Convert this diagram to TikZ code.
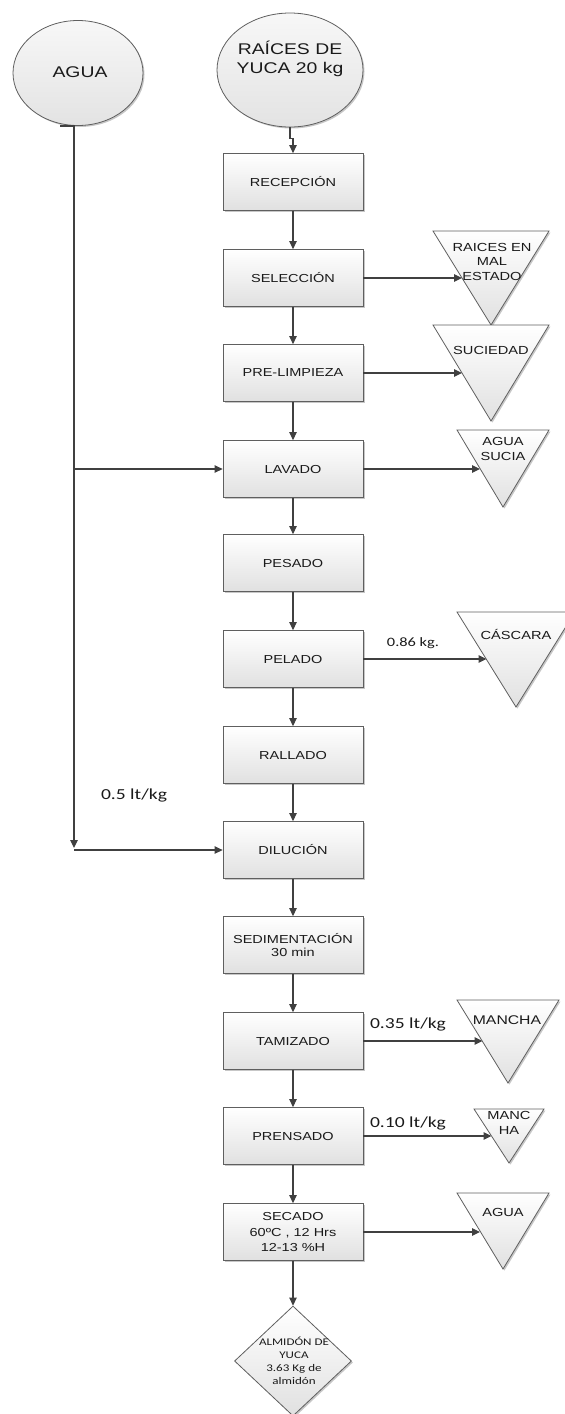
\documentclass[tikz,border=0pt]{standalone}
\usepackage{fontspec}
\setmainfont[FakeStretch=1.25]{Liberation Sans}
\newfontfamily\calib[FakeStretch=1.28]{Carlito}
\usetikzlibrary{arrows.meta,shapes.geometric,shadows,calc}
\definecolor{ln}{HTML}{404040}
\definecolor{bd}{HTML}{5F5F5F}
\definecolor{tx}{HTML}{1A1A1A}
\tikzset{
  shd/.style={drop shadow={shadow xshift=1.5pt,shadow yshift=-1.5pt,fill=black!22,opacity=1}},
  proc/.style={draw=bd,line width=0.8pt,top color=white,bottom color=black!12,
    minimum width=140pt,minimum height=57pt,inner sep=0pt,align=center,text=tx,
    font=\fontsize{11.6}{13.4}\selectfont,shd},
  oval/.style={ellipse,draw=bd,line width=0.8pt,top color=black!3,bottom color=black!11,inner sep=0pt,shd},
  tri/.style={draw=bd,line width=0.8pt,top color=white,bottom color=black!12,shd},
  tritext/.style={align=center,text=tx,inner sep=0pt,font=\fontsize{11.7}{14.5}\selectfont},
  bigtext/.style={align=center,text=tx,inner sep=0pt,font=\fontsize{15.5}{19}\selectfont},
  qty/.style={text=tx,inner sep=0pt,font=\calib},
  arr/.style={draw=ln,line width=1.1pt,-{Triangle[length=8pt,width=7.5pt]}},
  conn/.style={draw=ln,line width=1.1pt},
  prodshape/.style={diamond,draw=bd,line width=0.8pt,top color=white,bottom color=black!12,
    minimum width=117pt,minimum height=110pt,inner sep=0pt,shd},
}
\begin{document}
\begin{tikzpicture}[x=1pt,y=-1pt]
\useasboundingbox (0,0) rectangle (565,1414);

% sources
\node[oval,minimum width=130pt,minimum height=105pt] (agua) at (78,73) {};
\node[bigtext] (aguat) at (80,72) {AGUA};
\node[oval,minimum width=146pt,minimum height=114pt] (raices) at (290,70) {};
\node[bigtext] (raicest) at (290,58.5) {RAÍCES DE\\YUCA 20 kg};

% process boxes
\node[proc] (rec) at (293,182) {RECEPCIÓN};
\node[proc] (sel) at (293,278) {SELECCIÓN};
\node[proc] (pre) at (293,373) {PRE-LIMPIEZA};
\node[proc] (lav) at (293,469) {LAVADO};
\node[proc] (pes) at (293,563) {PESADO};
\node[proc] (pel) at (293,659) {PELADO};
\node[proc] (ral) at (293,755) {RALLADO};
\node[proc] (dil) at (293,850) {DILUCIÓN};
\node[proc,font=\fontsize{11.6}{13.3}\selectfont] (sed) at (293,945) {SEDIMENTACIÓN\\30 min};
\node[proc] (tam) at (293,1041) {TAMIZADO};
\node[proc] (pren) at (293,1136) {PRENSADO};
\node[proc,font=\fontsize{11.6}{15.3}\selectfont] (sec) at (293,1232) {SECADO\\60ºC , 12 Hrs\\12-13 \%H};

% product
\node[prodshape] (prod) at (293,1361) {};
\node[align=center,text=tx,inner sep=0pt,font=\calib\fontsize{10.2}{12.9}\selectfont] (prodt) at (294,1361)
  {ALMIDÓN DE\\YUCA\\3.63 Kg de\\almidón};

% waste triangles
\coordinate (t1l) at (433,231); \coordinate (t1r) at (549,231); \coordinate (t1a) at (491,325);
\coordinate (t2l) at (433,325); \coordinate (t2r) at (549,325); \coordinate (t2a) at (491,421);
\coordinate (t3l) at (457,430); \coordinate (t3r) at (549,430); \coordinate (t3a) at (503,507);
\coordinate (t4l) at (457,612); \coordinate (t4r) at (575,612); \coordinate (t4a) at (516,707);
\coordinate (t5l) at (457,1000); \coordinate (t5r) at (559,1000); \coordinate (t5a) at (508,1083);
\coordinate (t6l) at (474,1109); \coordinate (t6r) at (544,1109); \coordinate (t6a) at (509,1163);
\coordinate (t7l) at (457,1193); \coordinate (t7r) at (549,1193); \coordinate (t7a) at (503,1269);
\foreach \t in {t1,t2,t3,t4,t5,t6,t7}{
  \path[tri] (\t l) -- (\t r) -- (\t a) -- cycle;
  \coordinate (\t m) at ($(\t l)!0.5!(\t a)$);
}
\node[tritext] (t1t) at (492,261.5) {RAICES EN\\MAL\\ESTADO};
\node[tritext] (t2t) at (491,350) {SUCIEDAD};
\node[tritext] (t3t) at (503,449) {AGUA\\SUCIA};
\node[tritext] (t4t) at (516,634) {CÁSCARA};
\node[tritext,font=\fontsize{12.6}{15}\selectfont] (t5t) at (507,1020) {MANCHA};
\node[tritext,font=\fontsize{11.7}{15}\selectfont] (t6t) at (509,1122.5) {MANC\\HA};
\node[tritext] (t7t) at (503,1212) {AGUA};

% quantity labels
\node[qty,font=\calib\fontsize{12.8}{14}\selectfont] (q1) at (413,643) {0.86 kg.};
\node[qty,font=\calib\fontsize{15.3}{17}\selectfont] (q2) at (408,1024) {0.35 lt/kg};
\node[qty,font=\calib\fontsize{15.3}{17}\selectfont] (q3) at (408,1123) {0.10 lt/kg};
\node[qty,font=\calib\fontsize{15.3}{17}\selectfont] (q4) at (134,795) {0.5 lt/kg};

% main flow
\draw[arr] (raices.south) -- ($(raices.south)+(0,11)$) -| (rec.north);
\draw[arr] (rec.south) -- (sel.north);
\draw[arr] (sel.south) -- (pre.north);
\draw[arr] (pre.south) -- (lav.north);
\draw[arr] (lav.south) -- (pes.north);
\draw[arr] (pes.south) -- (pel.north);
\draw[arr] (pel.south) -- (ral.north);
\draw[arr] (ral.south) -- (dil.north);
\draw[arr] (dil.south) -- (sed.north);
\draw[arr] (sed.south) -- (tam.north);
\draw[arr] (tam.south) -- (pren.north);
\draw[arr] (pren.south) -- (sec.north);
\draw[arr] (sec.south) -- (prod.north);

% water line
\coordinate (a0) at (60,126);
\coordinate (a1) at (74,126);
\coordinate (alav) at (74,469);
\coordinate (adil) at (74,850);
\draw[arr] (a0) -- (a1) -- ($(adil)+(0,-2)$);
\draw[arr] (alav) -- (lav.west);
\draw[arr] (adil) -- (dil.west);

% waste arrows
\draw[arr] (sel.east) -- (sel.east -| t1m);
\draw[arr] (pre.east) -- (pre.east -| t2m);
\draw[arr] (lav.east) -- (lav.east -| t3m);
\draw[arr] (pel.east) -- (pel.east -| t4m);
\draw[arr] (tam.east) -- (tam.east -| t5m);
\draw[arr] (pren.east) -- (pren.east -| t6m);
\draw[arr] (sec.east) -- (sec.east -| t7m);
\end{tikzpicture}
\end{document}
